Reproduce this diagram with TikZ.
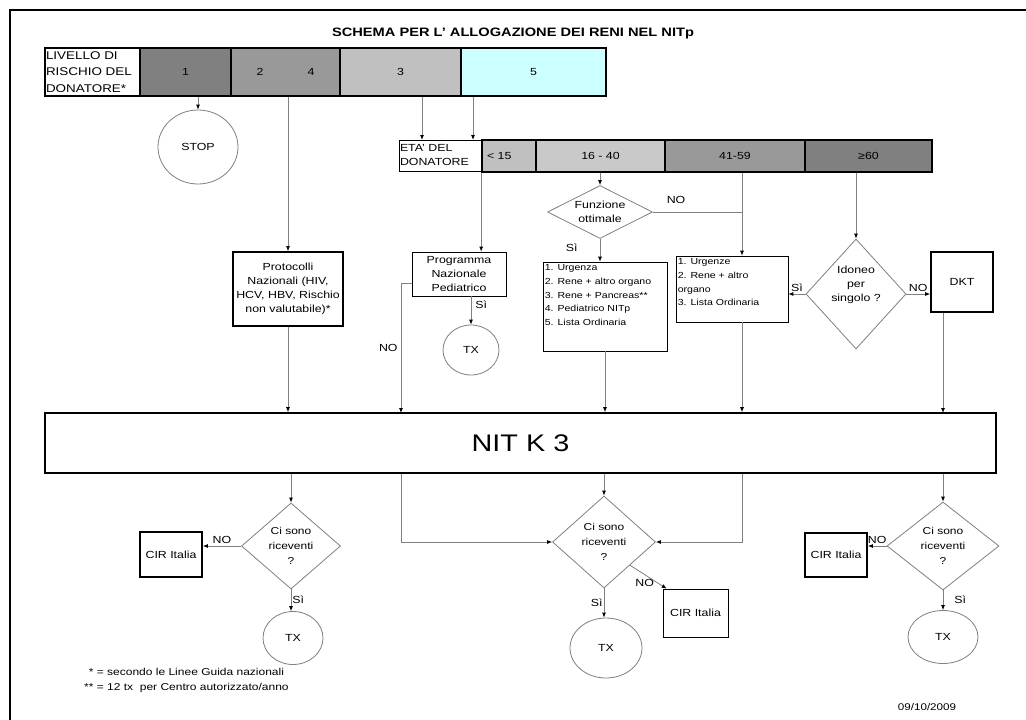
\documentclass[tikz,border=0pt]{standalone}
\usepackage{fontspec}
\setmainfont{Liberation Sans}[FakeStretch=1.2]
\usetikzlibrary{shapes.geometric}
\usetikzlibrary{arrows.meta}
\definecolor{rdark}{HTML}{808080}
\definecolor{rmid}{HTML}{999999}
\definecolor{rlight}{HTML}{C0C0C0}
\definecolor{rcyan}{HTML}{CCFFFF}

\begin{document}
\begin{tikzpicture}[x=1pt,y=-1pt,
  every node/.style={font=\fontsize{10.3}{14}\selectfont, inner sep=0pt},
  cellbox/.style={draw, line width=1.6pt, minimum height=48pt},
  agebox/.style={draw, line width=1.6pt, minimum height=32pt},
  plainbox/.style={draw, line width=0.7pt, align=center},
  boldbox/.style={draw, line width=1.8pt, align=center},
  choice/.style={diamond, draw=gray, line width=0.8pt},
  oval/.style={ellipse, draw=gray, line width=0.8pt},
  conn/.style={draw=gray, line width=0.8pt},
  arr/.style={conn, -{Latex[length=5pt,width=4pt,color=black]}}]
\fill[white] (0,0) rectangle (1026,720);
\useasboundingbox (0,0) rectangle (1026,720);
\draw[line width=2pt] (10,720) -- (10,10) -- (1026,10);

\node[font=\bfseries\fontsize{12.2}{15}\selectfont] (title) at (513,34) {SCHEMA PER L' ALLOGAZIONE DEI RENI NEL NITp};

\node[cellbox, minimum width=95pt, text width=93pt, align=left, font=\fontsize{11.2}{16.5}\selectfont] (lvl) at (92.5,72) {LIVELLO DI\\RISCHIO DEL\\DONATORE*};
\node[cellbox, fill=rdark, minimum width=91pt] (r1) at (185.5,72) {1};
\node[cellbox, fill=rmid, minimum width=109pt] (r24) at (285.5,72) {2\hspace{44pt}4};
\node[cellbox, fill=rlight, minimum width=121pt] (r3) at (400.5,72) {3};
\node[cellbox, fill=rcyan, minimum width=145pt] (r5) at (533.5,72) {5};

\node[oval, minimum width=80pt, minimum height=74pt] (stop) at (198,147) {STOP};
\draw[arr] (r1.south -| stop.north) -- (stop.north);

\node[plainbox, minimum width=83pt, minimum height=31pt, text width=81pt, align=left] (eta) at (440.5,155.5) {ETA' DEL\\DONATORE};
\node[agebox, fill=rlight, minimum width=54pt, text width=44pt, align=left] (a15) at (509,156) {< 15};
\node[agebox, fill=rlight!85!white, minimum width=129pt] (a1640) at (600.5,156) {16 - 40};
\node[agebox, fill=rmid, minimum width=140pt] (a4159) at (735,156) {41-59};
\node[agebox, fill=rdark, minimum width=127pt] (a60) at (868.5,156) {≥60};
\coordinate (e3) at (422,140);
\coordinate (e5) at (473,140);
\draw[arr] (r3.south -| e3) -- (e3);
\draw[arr] (r5.south -| e5) -- (e5);

\node[boldbox, minimum width=110pt, minimum height=74pt] (prot) at (288,289) {Protocolli\\Nazionali (HIV,\\HCV, HBV, Rischio\\non valutabile)*};
\draw[arr] (prot.north |- r24.south) -- (prot.north);

\node[plainbox, minimum width=94pt, minimum height=44pt] (prog) at (459,274) {Programma\\Nazionale\\Pediatrico};
\draw[arr] (a15.south west) -- (a15.south west |- prog.north);
\node[oval, minimum width=56pt, minimum height=50pt] (tx1) at (471,350) {TX};
\draw[arr] (prog.south -| tx1.north) -- (tx1.north) node[pos=.3, right=4pt] {Sì};
\coordinate (n2) at (401,413);
\draw[arr] ([yshift=-9pt]prog.west) -| (n2) node[pos=.75, left=3pt] {NO};

\node[choice, minimum width=105pt, minimum height=53pt] (fo) at (600,212) {};
\node[align=center] (fo-t) at (fo) {Funzione\\ottimale};
\draw[arr] (fo.north |- a1640.south) -- (fo.north);
\node[plainbox, minimum width=124pt, minimum height=89pt] (urg) at (605,306.5) {};
\node[anchor=north west, align=left, font=\fontsize{8.8}{13.6}\selectfont] (urg-t) at ([xshift=2pt,yshift=-3pt]urg.north west) {1. Urgenza\\2. Rene + altro organo\\3. Rene + Pancreas**\\4. Pediatrico NITp\\5. Lista Ordinaria};
\draw[arr] (fo.south) -- (fo.south |- urg.north) node[pos=.4, left=22pt] {Sì};

\coordinate (j) at (742,212);
\node[plainbox, minimum width=112pt, minimum height=66pt] (org) at (732,289) {};
\node[anchor=north west, align=left, font=\fontsize{8.8}{13.6}\selectfont] (org-t) at ([xshift=2pt,yshift=-3pt]org.north west) {1. Urgenze\\2. Rene + altro\\organo\\3. Lista Ordinaria};
\draw[conn] (fo.east) -- (j) node[pos=.26, above=8pt] {NO};
\draw[conn] (a4159.south -| j) -- (j);
\draw[arr] (j) -- (j |- org.north);

\node[choice, minimum width=100pt, minimum height=110pt] (ido) at (856,294) {};
\node[align=center, yshift=9pt] (ido-t) at (ido) {Idoneo\\per\\singolo ?};
\draw[arr] (ido.north |- a60.south) -- (ido.north);
\node[boldbox, minimum width=62pt, minimum height=60pt] (dkt) at (962,282) {DKT};
\draw[arr] (ido.west) -- (ido.west -| org.east) node[midway, above=2pt] {Sì};
\draw[arr] (ido.east) -- (ido.east -| dkt.west) node[midway, above=2pt] {NO};

\node[draw, line width=1.6pt, minimum width=951pt, minimum height=60pt, font=\fontsize{24}{30}\selectfont] (nit) at (520.5,443) {NIT K 3};
\coordinate (k3) at (943,413);
\draw[arr] (prot.south) -- (prot.south |- nit.north);
\draw[arr] (urg.south) -- (urg.south |- nit.north);
\draw[arr] (j |- org.south) -- (j |- nit.north);
\draw[arr] (dkt.south -| k3) -- (k3);

\node[choice, minimum width=99pt, minimum height=86pt] (dl) at (291,546) {};
\node[align=center, font=\fontsize{10}{15}\selectfont] (dl-t) at (dl) {Ci sono\\riceventi\\?};
\draw[arr] (dl.north |- nit.south) -- (dl.north);
\node[boldbox, minimum width=62pt, minimum height=45pt] (cl) at (171,554.5) {CIR Italia};
\draw[arr] (dl.west) -- (dl.west -| cl.east) node[midway, above=2pt] {NO};
\node[oval, minimum width=60pt, minimum height=53pt] (tl) at (293,638) {TX};
\draw[arr] (dl.south) -- (dl.south |- tl.north) node[midway, right=1pt] {Sì};

\node[choice, minimum width=103pt, minimum height=92pt] (dm) at (604,542) {};
\node[align=center, font=\fontsize{10}{15}\selectfont] (dm-t) at (dm) {Ci sono\\riceventi\\?};
\draw[arr] (dm.north |- nit.south) -- (dm.north);
\draw[arr] (n2 |- nit.south) |- (dm.west);
\draw[arr] (j |- nit.south) |- (dm.east);
\node[plainbox, minimum width=65pt, minimum height=48pt] (cm) at (695.5,613) {CIR Italia};
\draw[arr] (dm.south east) -- ([xshift=4pt]cm.north west) node[pos=.4, below=4pt] {NO};
\node[oval, minimum width=72pt, minimum height=60pt] (tm) at (606,648) {TX};
\draw[arr] (dm.south) -- (dm.south |- tm.north) node[midway, left=1pt] {Sì};

\node[choice, minimum width=112pt, minimum height=88pt] (dr) at (943,546) {};
\node[align=center, font=\fontsize{10}{15}\selectfont] (dr-t) at (dr) {Ci sono\\riceventi\\?};
\draw[arr] (k3 |- nit.south) -- (dr.north);
\node[boldbox, minimum width=62pt, minimum height=44pt] (cr) at (836,555) {CIR Italia};
\draw[arr] (dr.west) -- (dr.west -| cr.east) node[midway, above=2pt] {NO};
\node[oval, minimum width=70pt, minimum height=53pt] (tr) at (943,637) {TX};
\draw[arr] (dr.south) -- (dr.south |- tr.north) node[midway, right=11pt] {Sì};

\node[anchor=west, font=\fontsize{10}{15}\selectfont] (notes) at (84,679.5) {\begin{tabular}{@{}r@{\ =\ }l@{}}*&secondo le Linee Guida nazionali\\{**}&12 tx\ \ per Centro autorizzato/anno\end{tabular}};
\node[font=\fontsize{9.7}{12}\selectfont] (date) at (927,707) {09/10/2009};
\end{tikzpicture}
\end{document}
